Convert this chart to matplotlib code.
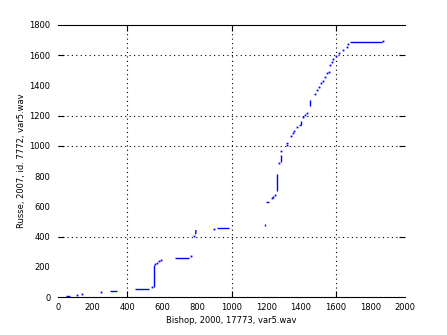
import matplotlib
matplotlib.use("Agg")
import matplotlib.pyplot as plt
from matplotlib.ticker import FixedLocator

##############
 # Data
##############

# runs of points drawn as short strokes (x start, x end, y start, y end)
seg_x0 = [46, 300, 444, 555, 674, 793, 915, 1195, 1199, 1262, 1283, 1314, 1391, 1402, 1454, 1683]
seg_x1 = [69, 340, 525, 555, 755, 795, 986, 1195, 1214, 1262, 1283, 1328, 1403, 1402, 1454, 1870]
seg_y0 = [5, 38, 51, 68, 256, 415, 455, 470, 627, 703, 895, 1017, 1138, 1138, 1264, 1686]
seg_y1 = [5, 38, 51, 212, 256, 443, 455, 483, 627, 814, 940, 1017, 1138, 1165, 1304, 1686]

# isolated points
dot_x = [111, 140, 248, 544, 561, 568, 580, 596, 767, 786, 901, 1231, 1241, 1252,
         1276, 1287, 1322, 1345, 1355, 1362, 1376, 1414, 1425, 1437, 1481, 1495,
         1504, 1516, 1526, 1537, 1549, 1560, 1568, 1581, 1587, 1602, 1620, 1641,
         1664, 1673, 1875]
dot_y = [11, 18, 31, 64, 218, 225, 237, 245, 269, 403, 450, 653, 663, 675,
         885, 968, 1005, 1065, 1085, 1100, 1123, 1189, 1205, 1220, 1343, 1370,
         1392, 1414, 1429, 1458, 1480, 1487, 1535, 1557, 1573, 1595, 1615, 1635,
         1653, 1672, 1692]

x_ticks = list(range(0, 2001, 200))
y_ticks = list(range(0, 1801, 200))
x_grid = [400, 1000, 1600]
y_grid = [400, 1000, 1200, 1600]

x_label = "Bishop, 2000, 17773, var5.wav"
y_label = "Russe, 2007, id. 7772, var5.wav"

##############
    # Plot
##############

fig = plt.figure(figsize=(4.47, 3.35), dpi=100)
ax = fig.add_axes([0.1298, 0.1134, 0.7763, 0.8120])

for x0, x1, y0, y1 in zip(seg_x0, seg_x1, seg_y0, seg_y1):
    ax.plot([x0, x1], [y0, y1], color="blue", linewidth=1.0, solid_capstyle="butt")
ax.plot(dot_x, dot_y, linestyle="none", marker="s", markersize=1.3,
        color="blue", markeredgewidth=0)

ax.set_xlim(0, 2000)
ax.set_ylim(0, 1800)

# labels on every tick, marks and dotted grid only on a few
ax.xaxis.set_major_locator(FixedLocator(x_ticks))
ax.yaxis.set_major_locator(FixedLocator(y_ticks))
ax.xaxis.set_minor_locator(FixedLocator(x_grid))
ax.yaxis.set_minor_locator(FixedLocator(y_grid))
ax.xaxis.remove_overlapping_locs = False
ax.yaxis.remove_overlapping_locs = False

ax.tick_params(which="major", length=0, labelsize=6, colors="black")
ax.tick_params(axis="x", which="major", pad=4)
ax.tick_params(axis="y", which="major", pad=5.5)
ax.tick_params(which="minor", direction="in", length=4, width=0.8,
               top=True, right=True, bottom=True, left=True)

ax.grid(which="minor", color="black", linestyle=(0, (1, 3)), linewidth=0.8)
ax.grid(which="major", visible=False)

ax.spines["left"].set_visible(False)
ax.spines["right"].set_visible(False)
ax.spines["top"].set_linewidth(0.8)
ax.spines["bottom"].set_linewidth(0.8)

ax.set_xlabel(x_label, fontsize=6, labelpad=3)
ax.set_ylabel(y_label, fontsize=6, labelpad=2)

fig.savefig("out.png", dpi=100)
